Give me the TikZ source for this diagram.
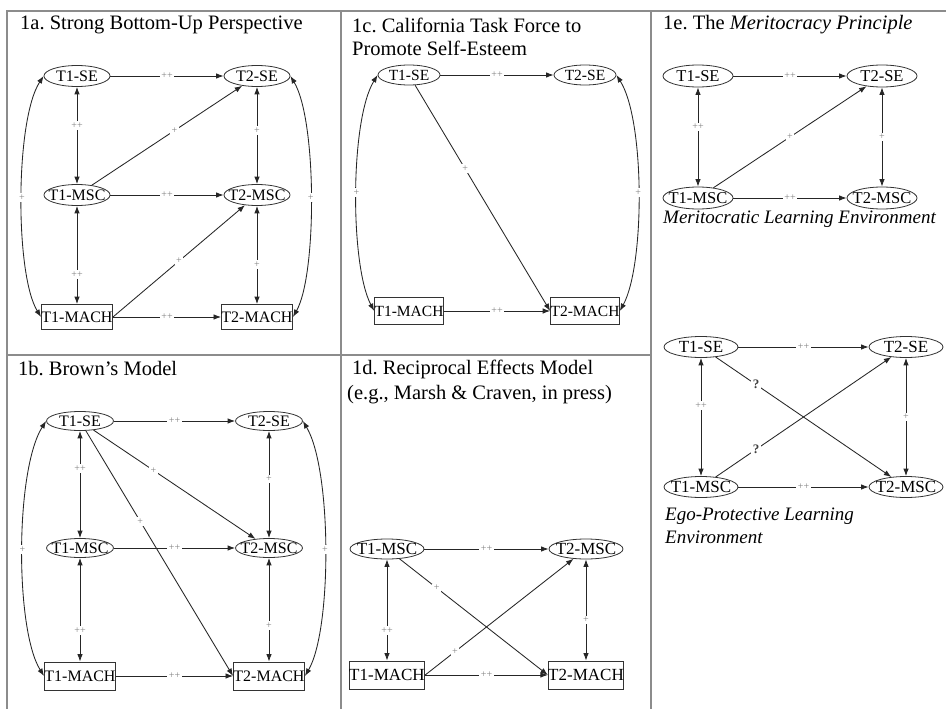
\documentclass[tikz,border=0pt]{standalone}
\usepackage{fontspec}
\setmainfont{Liberation Serif}
\usetikzlibrary{shapes.geometric,arrows.meta}
\frenchspacing
\begin{document}
\begin{tikzpicture}[x=1pt,y=-1pt,
  >={Latex[length=7.5pt,width=5.5pt]},
  ln/.style={draw=black!85, line width=0.85pt},
  one/.style={ln, ->},
  two/.style={ln, <->},
  lbl/.style={font=\fontsize{10}{10}\selectfont, text=black!50, fill=white, inner sep=1.5pt},
  qlbl/.style={font=\fontsize{13}{13}\selectfont\bfseries, text=black!75, fill=white, inner sep=1.5pt},
  ell/.style n args={3}{ellipse, draw=black!80, line width=0.8pt, minimum width=#1,
    minimum height=#2, inner xsep=-8pt, inner ysep=0pt, font=\fontsize{#3}{#3}\selectfont},
  box/.style n args={3}{rectangle, draw=black!80, line width=0.8pt, minimum width=#1,
    minimum height=#2, inner sep=0pt, font=\fontsize{#3}{#3}\selectfont},
  ea/.style={ell={66pt}{21pt}{16}},  ba/.style={box={67pt}{25pt}{16}},
  eb/.style={ell={67pt}{19pt}{16}},  bb/.style={box={70pt}{28pt}{16}},
  ec/.style={ell={62pt}{20pt}{15.5}},  bc/.style={box={63pt}{27pt}{15.5}},
  ed/.style={ell={74pt}{20pt}{17}}, bd/.style={box={71pt}{28pt}{17}},
  ee/.style={ell={70pt}{22pt}{16.5}},
  ef/.style={ell={74pt}{21pt}{17}},
  ttl/.style={anchor=west, inner sep=0pt, font=\fontsize{20.5}{20.5}\selectfont},
  captxt/.style={anchor=west, inner sep=0pt, font=\fontsize{19}{19}\selectfont\itshape},
  frm/.style={draw=black!45, line width=1.5pt}]

\useasboundingbox (0,0) rectangle (946,709);
\fill[white] (0,0) rectangle (946,709);

% panel frame
\draw[frm, line width=2pt] (7,709) -- (7,11) -- (946,11);
\draw[frm] (341,11) -- (341,709);
\draw[frm] (651,11) -- (651,709);
\draw[frm] (7,355) -- (651,355);

% ---------- 1a ----------
\node[ttl] (ta) at (20,25) {1a. Strong Bottom-Up Perspective};
\node[ea] (a1se)   at (77,76)  {T1-SE};
\node[ea] (a2se)   at (257,76) {T2-SE};
\node[ea] (a1msc)  at (77,195) {T1-MSC};
\node[ea] (a2msc)  at (257,195) {T2-MSC};
\node[ba] (a1mach) at (77,317) {T1-MACH};
\node[ba] (a2mach) at (257,317) {T2-MACH};
\draw[one] (a1se) -- node[lbl]{++} (a2se);
\draw[two] (a1se) -- node[lbl,pos=0.4]{++} (a1msc);
\draw[one] (a1msc) -- node[lbl,pos=0.55]{+} (a2se);
\draw[two] (a2se) -- node[lbl,pos=0.45]{+} (a2msc);
\draw[one] (a1msc) -- node[lbl]{++} (a2msc);
\draw[two] (a1msc) -- node[lbl,pos=0.7]{++} (a1mach);
\draw[one] (a1mach.east) -- node[lbl]{+} (a2msc);
\draw[two] (a2msc) -- node[lbl,pos=0.6]{+} (a2mach);
\draw[one] (a1mach) -- node[lbl]{++} (a2mach);
\draw[two] (a1se.west) .. controls (15,120) and (15,275) .. node[lbl]{+} (a1mach.west);
\draw[two] (a2se.east) .. controls (317,120) and (317,275) .. node[lbl]{+} (a2mach.east);

% ---------- 1b ----------
\node[ttl] (tb) at (18,369) {1b. Brown's Model};
\node[eb] (b1se)   at (80,421)  {T1-SE};
\node[eb] (b2se)   at (269,421) {T2-SE};
\node[eb] (b1msc)  at (80,548)  {T1-MSC};
\node[eb] (b2msc)  at (269,548) {T2-MSC};
\node[bb] (b1mach) at (80,676)  {T1-MACH};
\node[bb] (b2mach) at (269,676) {T2-MACH};
\draw[one] (b1se) -- node[lbl]{++} (b2se);
\draw[two] (b1se) -- node[lbl,pos=0.35]{++} (b1msc);
\draw[two] (b2se) -- node[lbl,pos=0.45]{+} (b2msc);
\draw[one] (b1se) -- node[lbl,pos=0.37]{+} (b2msc);
\draw[one] (b1se) -- node[lbl,pos=0.37]{+} (b2mach.west);
\draw[one] (b1msc) -- node[lbl]{++} (b2msc);
\draw[two] (b1msc) -- node[lbl,pos=0.7]{++} (b1mach);
\draw[two] (b2msc) -- node[lbl,pos=0.65]{+} (b2mach);
\draw[one] (b1mach) -- node[lbl]{++} (b2mach);
\draw[two] (b1se.west) .. controls (15,470) and (15,630) .. node[lbl]{+} (b1mach.west);
\draw[two] (b2se.east) .. controls (332,470) and (332,630) .. node[lbl]{+} (b2mach.east);

% ---------- 1c ----------
\node[ttl] (tc1) at (352,25) {1c. California Task Force to};
\node[ttl] (tc2) at (352,48) {Promote Self-Esteem};
\node[ec] (c1se)   at (409,75)  {T1-SE};
\node[ec] (c2se)   at (585,75)  {T2-SE};
\node[bc] (c1mach) at (409,311) {T1-MACH};
\node[bc] (c2mach) at (585,311) {T2-MACH};
\draw[one] (c1se) -- node[lbl]{++} (c2se);
\draw[one] (c1se) -- node[lbl,pos=0.37]{+} (c2mach.west);
\draw[one] (c1mach) -- node[lbl]{++} (c2mach);
\draw[two] (c1se.west) .. controls (350,120) and (350,265) .. node[lbl]{+} (c1mach.west);
\draw[two] (c2se.east) .. controls (645,120) and (645,265) .. node[lbl]{+} (c2mach.east);

% ---------- 1d ----------
\node[ttl] (td1) at (352,369) {1d. Reciprocal Effects Model};
\node[ttl] (td2) at (347,395) {(e.g., Marsh \& Craven, in press)};
\node[ed] (d1msc)  at (387,549) {T1-MSC};
\node[ed] (d2msc)  at (586,549) {T2-MSC};
\node[bd] (d1mach) at (387,675) {T1-MACH};
\node[bd] (d2mach) at (586,675) {T2-MACH};
\draw[one] (d1msc) -- node[lbl]{++} (d2msc);
\draw[two] (d1msc) -- node[lbl,pos=0.7]{++} (d1mach);
\draw[two] (d2msc) -- node[lbl,pos=0.6]{+} (d2mach);
\draw[one] (d1msc) -- node[lbl,pos=0.25]{+} (d2mach.west);
\draw[one] (d1mach.east) -- node[lbl,pos=0.2]{+} (d2msc);
\draw[one] (d1mach) -- node[lbl]{++} (d2mach);

% ---------- 1e ----------
\node[ttl] (te) at (663,25) {1e. The \textit{Meritocracy Principle}};
\node[ee] (e1se)  at (698,76)  {T1-SE};
\node[ee] (e2se)  at (882,76)  {T2-SE};
\node[ee] (e1msc) at (698,198) {T1-MSC};
\node[ee] (e2msc) at (882,198) {T2-MSC};
\draw[one] (e1se) -- node[lbl]{++} (e2se);
\draw[two] (e1se) -- node[lbl,pos=0.4]{++} (e1msc);
\draw[one] (e1msc) -- node[lbl]{+} (e2se);
\draw[two] (e2se) -- node[lbl,pos=0.5]{+} (e2msc);
\draw[one] (e1msc) -- node[lbl]{++} (e2msc);
\node[captxt] (ce1) at (663,219) {Meritocratic Learning Environment};

\node[ef] (f1se)  at (701,347) {T1-SE};
\node[ef] (f2se)  at (906,347) {T2-SE};
\node[ef] (f1msc) at (701,487) {T1-MSC};
\node[ef] (f2msc) at (906,487) {T2-MSC};
\draw[one] (f1se) -- node[lbl]{++} (f2se);
\draw[two] (f1se) -- node[lbl,pos=0.4]{++} (f1msc);
\draw[one] (f1se) -- node[qlbl,pos=0.23]{?} (f2msc);
\draw[one] (f1msc) -- node[qlbl,pos=0.23]{?} (f2se);
\draw[two] (f2se) -- node[lbl,pos=0.5]{+} (f2msc);
\draw[one] (f1msc) -- node[lbl]{++} (f2msc);
\node[captxt] (ce2) at (665,516) {Ego-Protective Learning};
\node[captxt] (ce3) at (665,537) {Environment};
\end{tikzpicture}
\end{document}
